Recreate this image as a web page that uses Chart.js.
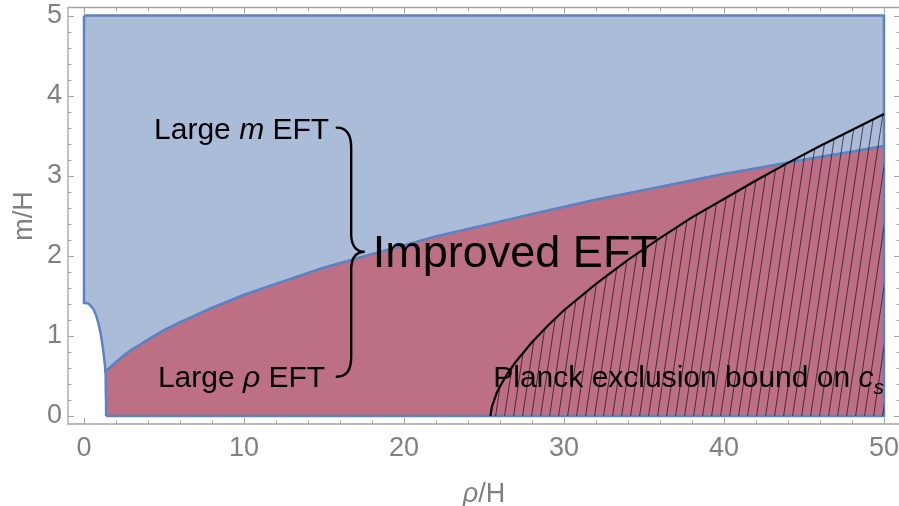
<!DOCTYPE html>
<html>
<head>
<meta charset="utf-8">
<script src="https://cdn.jsdelivr.net/npm/chart.js@4.4.1/dist/chart.umd.min.js"></script>
<style>
    html, body { margin: 0; padding: 0; background: #fff; }
    #wrap { width: 899px; height: 506px; }
</style>
</head>
<body>
<div id="wrap"><canvas id="regionChart" width="899" height="506"></canvas></div>
<script>
/*== Boundaries (rho/H , m/H) ==*/
// left edge of the blue region, from the corner at rho = 0 down to the red region
const leftEdgeX = [0, 0.15, 0.3, 0.45, 0.6, 0.75, 0.9, 1.0, 1.1, 1.2, 1.27, 1.33];
const leftEdgeY = [1.41, 1.41, 1.40, 1.37, 1.33, 1.26, 1.16, 1.07, 0.96, 0.82, 0.70, 0.59];
// left edge of the red region, down to the axis
const leftFootX = [1.36, 1.37, 1.38, 1.38];
const leftFootY = [0.45, 0.30, 0.15, 0];
// boundary between large m (blue) and large rho (red)
const splitX = [1.35, 1.6, 2, 2.5, 3, 3.5, 4, 5, 6, 7, 8, 10, 12, 15, 18, 20, 22, 25, 28, 30, 32, 35, 38, 40, 42, 45, 48, 50];
const splitY = [0.56, 0.60, 0.67, 0.755, 0.83, 0.89, 0.95, 1.07, 1.17, 1.26, 1.35, 1.51, 1.65, 1.85, 2.02, 2.13, 2.24, 2.38, 2.52, 2.61, 2.70, 2.82, 2.94, 3.02, 3.09, 3.20, 3.30, 3.37];
// Planck exclusion bound on c_s
const planckX = [25.4, 25.5, 25.8, 26, 26.5, 27, 28, 29, 30, 32, 34, 36, 38, 40, 42, 44, 46, 48, 50];
const planckY = [0, 0.12, 0.29, 0.37, 0.54, 0.68, 0.92, 1.13, 1.32, 1.65, 1.95, 2.22, 2.48, 2.71, 2.94, 3.16, 3.37, 3.57, 3.77];

const rhoMax = 50;
const mMax = 5;

const xMajorTicks = [0, 10, 20, 30, 40, 50];
const yMajorTicks = [0, 1, 2, 3, 4, 5];
const xMinorStep = 2;
const yMinorStep = 0.2;

const BLUE_FILL = 'rgb(171, 188, 217)';
const RED_FILL = 'rgb(189, 112, 131)';
const EDGE = 'rgb(93, 130, 193)';
const FRAME = '#a3a3a3';
const LABEL = '#808080';
const FONT = '"Liberation Sans", Arial, sans-serif';

function pts(xs, ys) {
    return xs.map((x, i) => ({x: x, y: ys[i]}));
}

function reversed(arr) {
    return arr.slice().reverse();
}

// blue region: top edge, right edge, split curve back to the left, left edge up again
const split = pts(splitX, splitY);
const bluePoly = [{x: 0, y: mMax}, {x: rhoMax, y: mMax}]
    .concat(reversed(split))
    .concat(reversed(pts(leftEdgeX, leftEdgeY)))
    .concat([{x: 0, y: mMax}]);

// red region: bottom edge, right edge, split curve back, foot down to the axis
const redPoly = [{x: leftFootX[leftFootX.length - 1], y: 0}, {x: rhoMax, y: 0}]
    .concat(reversed(split))
    .concat(pts(leftFootX, leftFootY));

const planck = pts(planckX, planckY);
const hatchPoly = planck.concat([{x: rhoMax, y: 0}, {x: planckX[0], y: 0}]);

function makeHatch() {
    const w = 9, h = 60;
    const c = document.createElement('canvas');
    c.width = w;
    c.height = h;
    const g = c.getContext('2d');
    g.strokeStyle = 'rgba(25, 15, 25, 0.7)';
    g.lineWidth = 1;
    [-w, 0, w].forEach(off => {
        g.beginPath();
        g.moveTo(off + w, 0);
        g.lineTo(off, h);
        g.stroke();
    });
    return g.createPattern(c, 'repeat');
}

/*== Frame, inward ticks, labels and the brace ==*/
const decorPlugin = {
    id: 'decor',
    afterDraw(chart) {
        const {ctx, chartArea: a, scales: {x, y}} = chart;
        ctx.save();

        // frame (right side sits just outside the picture)
        ctx.strokeStyle = FRAME;
        ctx.lineWidth = 1.3;
        ctx.beginPath();
        ctx.moveTo(a.right + 2, a.top);
        ctx.lineTo(a.left, a.top);
        ctx.lineTo(a.left, a.bottom);
        ctx.lineTo(a.right + 2, a.bottom);
        ctx.stroke();

        ctx.lineWidth = 1;
        ctx.beginPath();
        for (let v = 0; v <= rhoMax + 1e-6; v += xMinorStep) {
            const len = xMajorTicks.includes(Math.round(v)) ? 6 : 3.5;
            const px = Math.round(x.getPixelForValue(v)) + 0.5;
            ctx.moveTo(px, a.bottom);
            ctx.lineTo(px, a.bottom - len);
            ctx.moveTo(px, a.top);
            ctx.lineTo(px, a.top + len);
        }
        for (let i = 0; i <= mMax / yMinorStep + 1e-6; i++) {
            const v = i * yMinorStep;
            const len = (i % 5 === 0) ? 6 : 3.5;
            const py = Math.round(y.getPixelForValue(v)) + 0.5;
            ctx.moveTo(a.left, py);
            ctx.lineTo(a.left + len, py);
            ctx.moveTo(a.right + 1, py);
            ctx.lineTo(a.right + 1 - len, py);
        }
        ctx.stroke();

        // axis titles
        ctx.fillStyle = LABEL;
        ctx.textBaseline = 'alphabetic';
        ctx.font = 'italic 27px ' + FONT;
        const rhoW = ctx.measureText('\u03C1').width;
        ctx.font = '27px ' + FONT;
        const restW = ctx.measureText('/H').width;
        let tx = 484 - (rhoW + restW) / 2;
        ctx.font = 'italic 27px ' + FONT;
        ctx.fillText('\u03C1', tx, 502);
        ctx.font = '27px ' + FONT;
        ctx.fillText('/H', tx + rhoW, 502);

        ctx.save();
        ctx.translate(32, 216);
        ctx.rotate(-Math.PI / 2);
        ctx.textAlign = 'center';
        ctx.fillText('m/H', 0, 0);
        ctx.restore();

        // region labels
        ctx.fillStyle = '#000';
        function runs(parts, vx, vy) {
            let px = x.getPixelForValue(vx);
            const py = y.getPixelForValue(vy);
            parts.forEach(p => {
                ctx.font = p.font;
                ctx.fillText(p.text, px, py + (p.dy || 0));
                px += ctx.measureText(p.text).width;
            });
        }
        const normal = '30px ' + FONT;
        const italic = 'italic 30px ' + FONT;
        runs([{text: 'Large ', font: normal}, {text: 'm', font: italic}, {text: ' EFT', font: normal}], 4.38, 3.455);
        runs([{text: 'Large ', font: normal}, {text: '\u03C1', font: italic}, {text: ' EFT', font: normal}], 4.62, 0.366);
        runs([{text: 'Improved EFT', font: '45px ' + FONT}], 18.05, 1.864);
        runs([{text: 'Planck exclusion bound on ', font: normal}, {text: 'c', font: italic},
              {text: 's', font: 'italic 21px ' + FONT, dy: 7}], 25.58, 0.368);

        // brace joining the two labels
        const xs = x.getPixelForValue(15.8);
        const xv = x.getPixelForValue(16.7);
        const xt = x.getPixelForValue(17.55);
        const yt = y.getPixelForValue(3.6);
        const ym = y.getPixelForValue(2.05);
        const yb = y.getPixelForValue(0.49);
        ctx.strokeStyle = '#000';
        ctx.lineWidth = 2.4;
        ctx.lineCap = 'round';
        ctx.beginPath();
        ctx.moveTo(xs, yt);
        ctx.quadraticCurveTo(xv, yt, xv, yt + 20);
        ctx.lineTo(xv, ym - 16);
        ctx.quadraticCurveTo(xv + 1, ym, xt, ym);
        ctx.quadraticCurveTo(xv + 1, ym, xv, ym + 16);
        ctx.lineTo(xv, yb - 20);
        ctx.quadraticCurveTo(xv, yb, xs, yb);
        ctx.stroke();

        ctx.restore();
    }
};

const ctx = document.getElementById('regionChart').getContext('2d');

const regionChart = new Chart(ctx, {
    type: 'scatter',
    data: {
        datasets: [{
            data: bluePoly,
            showLine: true,
            pointRadius: 0,
            borderColor: EDGE,
            borderWidth: 2.5,
            backgroundColor: BLUE_FILL,
            fill: 'shape',
            order: 4
        }, {
            data: redPoly,
            showLine: true,
            pointRadius: 0,
            borderColor: EDGE,
            borderWidth: 2.5,
            backgroundColor: RED_FILL,
            fill: 'shape',
            order: 3
        }, {
            data: hatchPoly,
            showLine: true,
            pointRadius: 0,
            borderWidth: 0,
            borderColor: 'rgba(0,0,0,0)',
            backgroundColor: makeHatch(),
            fill: 'shape',
            order: 2
        }, {
            data: planck,
            showLine: true,
            pointRadius: 0,
            borderColor: '#000',
            borderWidth: 2.2,
            fill: false,
            order: 1
        }]
    },
    options: {
        responsive: false,
        animation: false,
        devicePixelRatio: 1,
        events: [],
        layout: {
            padding: {top: 7.5, right: 0, bottom: 0, left: 0}
        },
        scales: {
            x: {
                type: 'linear',
                min: -1.0,
                max: 50.94,
                grid: {display: false, drawTicks: false},
                border: {display: false},
                afterBuildTicks: scale => {
                    scale.ticks = xMajorTicks.map(v => ({value: v}));
                },
                afterFit: scale => {
                    scale.height = 82;
                    scale.paddingLeft = 0;
                    scale.paddingRight = 0;
                },
                ticks: {
                    color: LABEL,
                    padding: 8,
                    maxRotation: 0,
                    font: {family: FONT, size: 27}
                }
            },
            y: {
                type: 'linear',
                min: -0.1,
                max: 5.1,
                grid: {display: false, drawTicks: false},
                border: {display: false},
                afterBuildTicks: scale => {
                    scale.ticks = yMajorTicks.map(v => ({value: v}));
                },
                afterFit: scale => {
                    scale.width = 68;
                    scale.paddingTop = 0;
                    scale.paddingBottom = 0;
                },
                ticks: {
                    color: LABEL,
                    padding: 6,
                    font: {family: FONT, size: 27}
                }
            }
        },
        plugins: {
            legend: {display: false},
            tooltip: {enabled: false}
        }
    },
    plugins: [decorPlugin]
});
</script>
</body>
</html>
